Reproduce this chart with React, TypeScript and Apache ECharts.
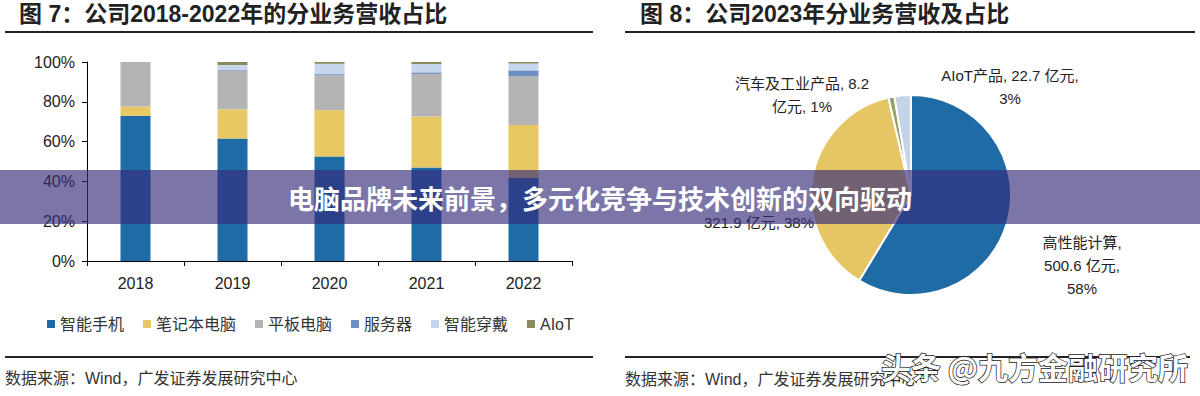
import React, { useEffect, useRef } from "react";
import * as echarts from "echarts";

const years = ["2018", "2019", "2020", "2021", "2022"];
const phone = [73.0, 61.5, 52.5, 47.0, 41.8];
const laptop = [4.6, 14.7, 23.3, 25.6, 26.6];
const tablet = [22.4, 19.5, 17.5, 21.4, 24.4];
const server = [0, 0.3, 0.6, 0.8, 3.0];
const wearable = [0, 2.5, 5.2, 4.2, 3.4];
const aiot = [0, 1.5, 0.9, 1.0, 0.8];
const barNames = ["智能手机", "笔记本电脑", "平板电脑", "服务器", "智能穿戴", "AIoT"];
const barColors = ["#1F6BA6", "#E8C862", "#B4B4B4", "#6F8FC4", "#C6D6EC", "#8A8A5C"];

const pieNames = ["高性能计算", "智能终端", "汽车及工业产品", "AIoT产品"];
const pieValues = [500.6, 321.9, 8.2, 22.7];
const pieShares = [58, 38, 1, 3];
const pieColors = ["#1F6BA6", "#E6C664", "#94A06A", "#C3D3E8"];

const title7 = "图 7：公司2018-2022年的分业务营收占比";
const title8 = "图 8：公司2023年分业务营收及占比";
const sourceText = "数据来源：Wind，广发证券发展研究中心";
const bannerText = "电脑品牌未来前景，多元化竞争与技术创新的双向驱动";
const watermark = "头条 @九方金融研究所";

const FONT = '"Liberation Sans", Arial, "Noto Sans CJK SC", sans-serif';

export default function App() {
  const ref = useRef<HTMLDivElement>(null);
  useEffect(() => {
    if (!ref.current) return;
    const chart = echarts.init(ref.current, undefined, { renderer: "svg" });
    const barSeries = [phone, laptop, tablet, server, wearable, aiot].map((d, i) => ({
      name: barNames[i],
      type: "bar",
      stack: "total",
      barWidth: 30,
      data: d,
      itemStyle: { color: barColors[i] },
    }));
    const labelPos = [
      { x: 1082, y: 265 },
      { x: 759, y: 222 },
      { x: 802, y: 95 },
      { x: 1010, y: 87 },
    ];
    const labelTexts = [
      `${pieNames[0]},\n${pieValues[0]} 亿元,\n${pieShares[0]}%`,
      `${pieValues[1]} 亿元, ${pieShares[1]}%`,
      `${pieNames[2]}, ${pieValues[2]}\n亿元, ${pieShares[2]}%`,
      `${pieNames[3]}, ${pieValues[3]} 亿元,\n${pieShares[3]}%`,
    ];
    const option: any = {
      animation: false,
      textStyle: { fontFamily: FONT },
      grid: { left: 87, right: 628, top: 62, bottom: 135 },
      legend: {
        data: barNames,
        left: 42,
        top: 311,
        icon: "rect",
        itemWidth: 8,
        itemHeight: 8,
        itemGap: 19,
        textStyle: { fontSize: 16, color: "#333", fontFamily: FONT },
      },
      xAxis: {
        type: "category",
        data: years,
        axisLine: { lineStyle: { color: "#000", width: 1 } },
        axisTick: { show: true, length: 5, lineStyle: { color: "#000" } },
        axisLabel: { fontSize: 16, color: "#222", margin: 14 },
      },
      yAxis: {
        type: "value",
        min: 0,
        max: 100,
        interval: 20,
        splitLine: { show: false },
        axisLine: { show: true, lineStyle: { color: "#000", width: 1 } },
        axisTick: { show: true, length: 5, lineStyle: { color: "#000" } },
        axisLabel: { fontSize: 16, color: "#222", formatter: "{value}%", margin: 12 },
      },
      series: [
        ...barSeries,
        {
          type: "pie",
          center: [911, 195],
          radius: 100,
          startAngle: 90,
          clockwise: true,
          data: pieNames.map((n, i) => ({
            name: n,
            value: pieValues[i],
            itemStyle: { color: pieColors[i] },
          })),
          itemStyle: { borderColor: "#fff", borderWidth: 2 },
          label: {
            show: true,
            position: "outside",
            fontSize: 15,
            lineHeight: 23,
            color: "#222",
            align: "center",
            formatter: (p: any) => labelTexts[p.dataIndex],
          },
          labelLine: { show: false },
          labelLayout: (p: any) => ({
            x: labelPos[p.dataIndex].x,
            y: labelPos[p.dataIndex].y,
            align: "center",
            verticalAlign: "middle",
          }),
        },
      ],
      graphic: [
        { type: "text", left: 19, top: 2, style: { text: title7, fontSize: 23, fontWeight: "bold", fill: "#222", fontFamily: FONT } },
        { type: "line", shape: { x1: 5, y1: 32, x2: 593, y2: 32 }, style: { stroke: "#222", lineWidth: 2 } },
        { type: "text", left: 640, top: 2, style: { text: title8, fontSize: 23, fontWeight: "bold", fill: "#222", fontFamily: FONT } },
        { type: "line", shape: { x1: 625, y1: 32, x2: 1195, y2: 32 }, style: { stroke: "#222", lineWidth: 2 } },
        { type: "line", shape: { x1: 5, y1: 357, x2: 593, y2: 357 }, style: { stroke: "#222", lineWidth: 2 } },
        { type: "line", shape: { x1: 625, y1: 357, x2: 1190, y2: 357 }, style: { stroke: "#222", lineWidth: 2 } },
        { type: "text", left: 5, top: 370, style: { text: sourceText, fontSize: 16, fill: "#333", fontFamily: FONT } },
        { type: "text", left: 625, top: 371, style: { text: sourceText, fontSize: 16, fill: "#333", fontFamily: FONT } },
        { type: "rect", z: 100, shape: { x: 0, y: 170, width: 1200, height: 54 }, style: { fill: "rgba(52,43,121,0.65)" } },
        {
          type: "text", z: 101, x: 600, y: 197,
          style: { text: bannerText, fontSize: 26, fontWeight: "bold", fill: "#fff", align: "center", verticalAlign: "middle", fontFamily: '"Noto Sans CJK SC", sans-serif' },
        },
        {
          type: "text", z: 101, x: 1188, y: 366,
          style: { text: watermark, fontSize: 30, fontWeight: "bold", fill: "#fff", stroke: "#222", lineWidth: 1.5, align: "right", verticalAlign: "middle", fontFamily: '"Noto Sans CJK SC", sans-serif' },
        },
      ],
    };
    chart.setOption(option);
    return () => chart.dispose();
  }, []);
  return <div ref={ref} style={{ position: "fixed", left: 0, top: 0, width: 1200, height: 396, background: "#fff" }} />;
}
